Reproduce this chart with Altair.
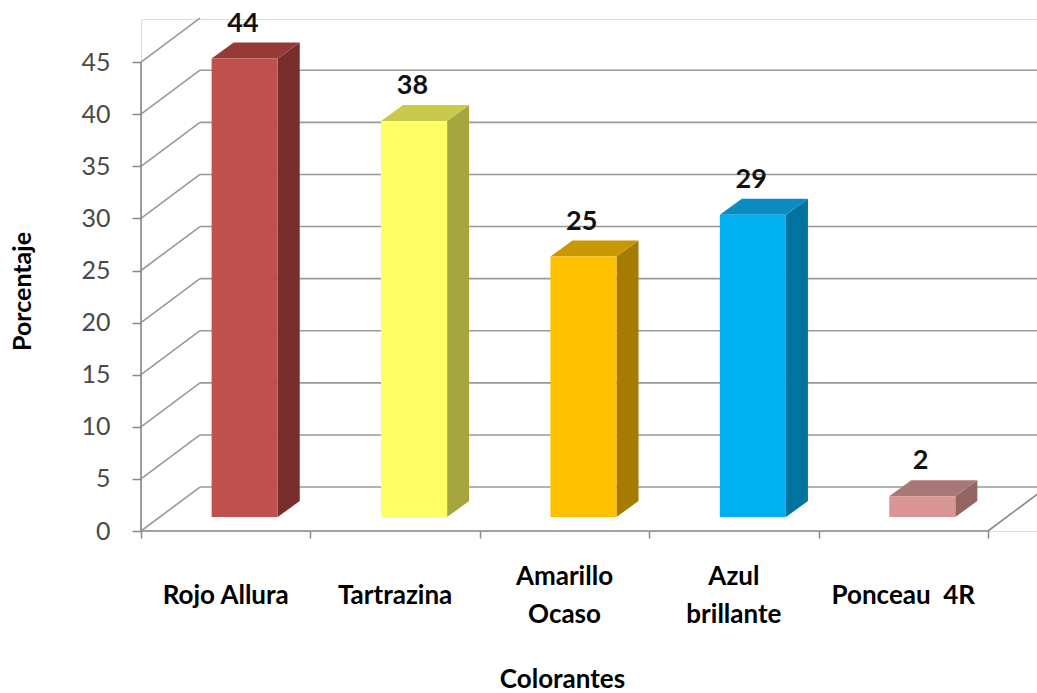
import altair as alt
import pandas as pd

# ---- data ----
categories = ["Rojo Allura", "Tartrazina", "Amarillo Ocaso", "Azul brillante", "Ponceau  4R"]
axis_labels = ["Rojo Allura", "Tartrazina", "Amarillo\nOcaso", "Azul\nbrillante", "Ponceau \u00a04R"]
values = [44, 38, 25, 29, 2]
front_colors = ["#C0504D", "#FFFF66", "#FFC000", "#00B0F0", "#DA9694"]
top_colors = ["#963A37", "#C9C94A", "#C99800", "#0A8CC2", "#A87876"]
side_colors = ["#7A2E2C", "#A6A63E", "#A67C00", "#00739E", "#946462"]
y_ticks = [0, 5, 10, 15, 20, 25, 30, 35, 40, 45]

# ---- pseudo-3D geometry (in data units) ----
X_MAX = 896 / 169.4        # x domain (category units)
Y_MAX = 512 / 10.42        # y domain (value units)
WALL_DX, WALL_DY = 0.348, 4.22
BAR_OFF_X, BAR_OFF_Y = 0.112, 1.34
BAR_HW = 0.195
DEPTH_X, DEPTH_Y = 0.13, 1.54
LINE_UNITS = 38 / 10.42

xs = alt.Scale(domain=[0, X_MAX], nice=False, zero=False)
ys = alt.Scale(domain=[0, Y_MAX], nice=False, zero=False)
GRID = "#999999"
FONT = "Lato"

# gridlines
grid = pd.DataFrame({"v": y_ticks})
grid["x0"] = 0.0
grid["x1"] = WALL_DX
grid["x2"] = X_MAX + 0.5
grid["yb"] = grid["v"] + WALL_DY

diag = alt.Chart(grid).mark_rule(color=GRID, strokeWidth=1.6).encode(
    x=alt.X("x0:Q", scale=xs, axis=alt.Axis(values=[0, 1, 2, 3, 4, 5], labels=False, domain=False,
                                             grid=False, tickSize=7, tickColor="#888888", tickWidth=1.5,
                                             title="Colorantes", titleFont=FONT, titleFontSize=26,
                                             titleFontWeight="bold", titleColor="#000000",
                                             titleX=421, titleY=148, titleBaseline="middle")),
    y=alt.Y("v:Q", scale=ys, axis=alt.Axis(values=y_ticks, domain=False, grid=False, tickSize=9,
                                           tickColor="#888888", tickWidth=1.5, labelFont=FONT,
                                           labelFontSize=25, labelColor="#4a4a4a", labelPadding=22,
                                           title="Porcentaje", titleFont=FONT, titleFontSize=25,
                                           titleFontWeight="bold", titleColor="#000000",
                                           titleX=-119, titleY=272, titleAlign="center",
                                           titleBaseline="middle", titleAngle=-90)),
    x2="x1:Q", y2="yb:Q",
)
back = alt.Chart(grid).mark_rule(color=GRID, strokeWidth=1.6, clip=True).encode(
    x="x1:Q", x2="x2:Q", y="yb:Q"
)

frame = pd.DataFrame({
    "xa": [0.0, 0.0, 5.0],
    "ya": [0.0, 0.0, 0.0],
    "xb": [0.0, 5.0, 5.0 + WALL_DX],
    "yb2": [45.0, 0.0, WALL_DY],
})
frame_l = alt.Chart(frame).mark_rule(color="#888888", strokeWidth=1.6).encode(
    x="xa:Q", y="ya:Q", x2="xb:Q", y2="yb2:Q"
)

# bars
rows = []
for i, (cat, v) in enumerate(zip(categories, values)):
    c = i + 0.5 + BAR_OFF_X
    rows.append({"cat": cat, "v": v, "c": c - 0.01, "l": c - BAR_HW, "r": c + BAR_HW,
                 "b": BAR_OFF_Y, "t": BAR_OFF_Y + v,
                 "front": front_colors[i], "top": top_colors[i], "side": side_colors[i],
                 "lab": str(v), "laby": BAR_OFF_Y + v + DEPTH_Y + 1.8})
bars = pd.DataFrame(rows)

front = alt.Chart(bars).mark_rect().encode(
    x="l:Q", x2="r:Q", y="b:Q", y2="t:Q", color=alt.Color("front:N", scale=None)
)

side_rows, top_rows = [], []
for r in rows:
    side_rows.append({"cat": r["cat"], "x": r["r"], "y": r["b"], "y2": r["t"], "col": r["side"]})
    side_rows.append({"cat": r["cat"], "x": r["r"] + DEPTH_X, "y": r["b"] + DEPTH_Y,
                      "y2": r["t"] + DEPTH_Y, "col": r["side"]})
    top_rows.append({"cat": r["cat"], "y": r["t"], "x": r["l"], "x2": r["r"], "col": r["top"]})
    top_rows.append({"cat": r["cat"], "y": r["t"] + DEPTH_Y, "x": r["l"] + DEPTH_X,
                     "x2": r["r"] + DEPTH_X, "col": r["top"]})
side = alt.Chart(pd.DataFrame(side_rows)).mark_area(orient="vertical").encode(
    x="x:Q", y="y:Q", y2="y2:Q", detail="cat:N", color=alt.Color("col:N", scale=None)
)
top = alt.Chart(pd.DataFrame(top_rows)).mark_area(orient="horizontal").encode(
    y="y:Q", x="x:Q", x2="x2:Q", detail="cat:N", color=alt.Color("col:N", scale=None)
)

labels = alt.Chart(bars).mark_text(font=FONT, fontSize=27, fontWeight="bold", color="#111111",
                                   baseline="middle").encode(
    x="c:Q", y="laby:Q", text="lab:N"
)

lines = [s.split("\n") for s in axis_labels]
xl = pd.DataFrame({"x": [i + 0.5 for i in range(5)],
                   "y": [-6.2 + (len(l) - 1) * LINE_UNITS / 2 for l in lines],
                   "t": lines})
xlab = alt.Chart(xl).mark_text(font=FONT, fontSize=26, fontWeight="bold", color="#000000",
                               baseline="middle", lineHeight=38).encode(
    x="x:Q", y="y:Q", text="t"
)

chart = alt.layer(diag, back, frame_l, side, top, front, labels, xlab).properties(
    width=896, height=512,
    autosize=alt.AutoSizeParams(type="none"),
    padding={"left": 141, "top": 19, "right": 0, "bottom": 162},
).configure_view(stroke=None).configure(background="white")

chart.save("out.html", embed_options={"renderer": "svg", "actions": False})
